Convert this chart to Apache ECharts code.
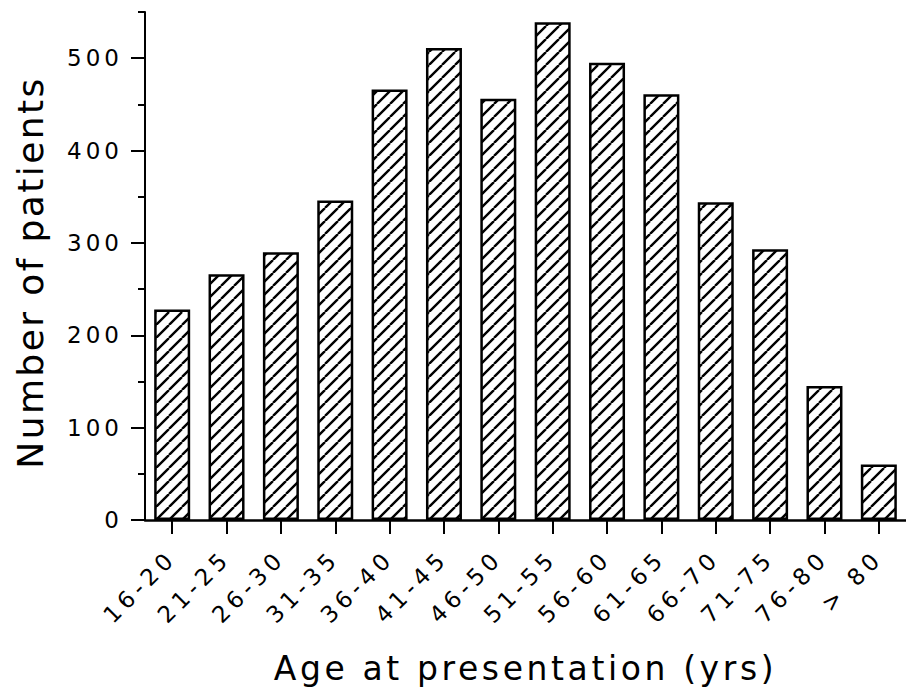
<!DOCTYPE html>
<html><head><meta charset="utf-8">
<script src="https://cdn.jsdelivr.net/npm/echarts@6/dist/echarts.min.js"></script>
<style>
html,body{margin:0;padding:0;background:#fff;}
#c{width:906px;height:695px;}
text[style*="ytk"]{letter-spacing:4px;}
text[style*="xtk"]{letter-spacing:5px;}
text[style*="xtl"]{letter-spacing:3.6px;}
text[style*="ytl"]{letter-spacing:2.4px;}
</style></head><body><div id="c"></div>
<script>
const categories = ['16-20','21-25','26-30','31-35','36-40','41-45','46-50','51-55','56-60','61-65','66-70','71-75','76-80','> 80'];
const patients = [228, 266, 290, 346, 466, 511, 456, 539, 495, 461, 344, 293, 145, 60];
const yTickValues = [0, 100, 200, 300, 400, 500];
const yMax = 550;
const xTitle = 'Age at presentation (yrs)';
const yTitle = 'Number of patients';

function hatchURL(){
  const s = 13;
  const c = document.createElement('canvas');
  c.width = s; c.height = s;
  const g = c.getContext('2d');
  g.fillStyle = '#fff'; g.fillRect(0,0,s,s);
  g.strokeStyle = '#000'; g.lineWidth = 2.4;
  g.beginPath();
  for (const k of [-s, 0, s]) { g.moveTo(k, s); g.lineTo(k + s, 0); }
  g.stroke();
  return c.toDataURL();
}

const chart = echarts.init(document.getElementById('c'), null, {renderer:'svg'});
chart.setOption({
  animation:false,
  backgroundColor:'#fff',
  grid:{left:145, right:0, top:12, bottom:175, containLabel:false, outerBoundsMode:'none'},
  xAxis:{
    type:'category', data:categories, boundaryGap:true,
    axisLine:{show:true, lineStyle:{color:'#000', width:2.5}},
    axisTick:{show:true, alignWithLabel:true, length:14, lineStyle:{color:'#000', width:2}},
    axisLabel:{rotate:45, interval:0, margin:34, fontSize:23, color:'#000', fontFamily:'DejaVu Sans, xtk'},
    splitLine:{show:false},
    name:xTitle, nameLocation:'middle', nameGap:132,
    nameTextStyle:{fontSize:33, color:'#000', fontFamily:'DejaVu Sans, xtl'}
  },
  yAxis:[{
    type:'value', min:0, max:yMax, interval:50, position:'left',
    axisLine:{show:true, lineStyle:{color:'#000', width:2}},
    axisTick:{show:true, length:7, lineStyle:{color:'#000', width:2}},
    axisLabel:{show:false},
    splitLine:{show:false},
    name:yTitle, nameLocation:'middle', nameRotate:90, nameGap:97,
    nameTextStyle:{fontSize:36, color:'#000', fontFamily:'DejaVu Sans, ytl', padding:[0,13,0,0]}
  },{
    type:'value', min:0, max:yMax, interval:100, position:'left',
    axisLine:{show:false},
    axisTick:{show:true, length:14, customValues:yTickValues, lineStyle:{color:'#000', width:2}},
    axisLabel:{show:true, customValues:yTickValues, margin:22, fontSize:23, color:'#000', fontFamily:'DejaVu Sans, ytk'},
    splitLine:{show:false}
  }],
  series:[{
    type:'bar', data:patients, barWidth:36, yAxisIndex:0,
    itemStyle:{color:{image:hatchURL(), repeat:'repeat', imageWidth:13, imageHeight:13}, borderColor:'#000', borderWidth:2.5}
  }]
});
</script></body></html>
